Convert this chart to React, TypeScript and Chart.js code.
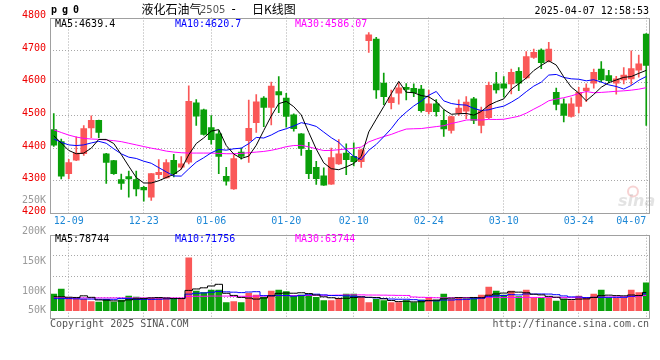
import React, { useEffect, useRef } from 'react';
import { Chart, registerables } from 'chart.js';

Chart.register(...registerables);

// ---------- data ----------
const DATES = ['12-05','12-06','12-09','12-10','12-11','12-12','12-13','12-16','12-17','12-18','12-19','12-20','12-23','12-24','12-25','12-26','12-27','12-30','12-31','01-02','01-03','01-06','01-07','01-08','01-09','01-10','01-13','01-14','01-15','01-16','01-17','01-20','01-21','01-22','01-23','01-24','01-27','02-05','02-06','02-07','02-10','02-11','02-12','02-13','02-14','02-17','02-18','02-19','02-20','02-21','02-24','02-25','02-26','02-27','02-28','03-03','03-04','03-05','03-06','03-07','03-10','03-11','03-12','03-13','03-14','03-17','03-18','03-19','03-20','03-21','03-24','03-25','03-26','03-27','03-28','03-31','04-01','04-02','04-03','04-07'];
const TICK_DATES = ['12-09','12-23','01-06','01-20','02-10','02-24','03-10','03-24','04-07'];

const OPEN = [4457,4420,4322,4363,4383,4462,4485,4383,4362,4304, 4313,4304,4280,4250,4319,4309,4363,4342,4357,4539, 4517,4463,4444,4314,4275,4388,4423,4478,4553,4525, 4573,4553,4502,4444,4393,4341,4315,4290,4352,4385, 4375,4359,4729,4734,4599,4539,4568,4586,4583,4581, 4512,4536,4485,4454,4507,4513,4551,4470,4493,4597, 4597,4597,4635,4615,4678,4700,4666,4571,4536,4497, 4528,4576,4599,4642,4622,4599,4609,4612,4639,4749];
const HIGH = [4506,4428,4366,4435,4469,4499,4486,4384,4363,4321, 4330,4330,4283,4322,4365,4365,4381,4374,4591,4549, 4520,4500,4454,4341,4380,4400,4547,4564,4558,4602, 4619,4568,4505,4445,4418,4360,4340,4400,4426,4413, 4416,4397,4754,4739,4630,4578,4600,4598,4597,4592, 4578,4549,4517,4498,4548,4558,4556,4526,4602,4632, 4619,4642,4647,4696,4703,4704,4724,4584,4551,4554, 4586,4597,4642,4665,4638,4620,4647,4698,4685,4751];
const LOW = [4405,4306,4307,4362,4378,4432,4432,4292,4320,4274, 4250,4254,4238,4240,4307,4308,4312,4336,4352,4470, 4440,4412,4322,4287,4274,4366,4356,4448,4466,4471, 4509,4464,4452,4378,4307,4289,4286,4289,4350,4319, 4346,4341,4693,4552,4533,4520,4535,4548,4558,4510, 4505,4498,4436,4446,4500,4490,4475,4447,4490,4568, 4556,4566,4576,4612,4675,4643,4664,4517,4480,4495, 4508,4542,4584,4602,4600,4565,4597,4595,4617,4470];
const CLOSE = [4409,4314,4356,4385,4460,4485,4448,4356,4322,4292, 4306,4275,4272,4322,4326,4356,4322,4352,4543,4498, 4442,4426,4375,4299,4368,4375,4461,4542,4525,4590, 4563,4497,4460,4399,4322,4307,4287,4371,4383,4365, 4359,4395,4747,4578,4558,4555,4585,4580,4570,4515, 4536,4512,4459,4497,4523,4541,4485,4515,4592,4578, 4584,4632,4599,4680,4693,4662,4703,4534,4500,4536, 4571,4584,4632,4609,4607,4612,4624,4644,4658,4653];

const MA5 = [4438,4416,4393,4383,4384.8,4400,4426.8,4426.8,4414.2,4380.6, 4344.8,4310.2,4293.4,4293.4,4300.2,4310.2,4319.6,4335.6,4379.8,4414.2, 4431.4,4452.2,4456.8,4408,4382,4368.6,4375.6,4409,4454.2,4498.6, 4536.2,4543.4,4527,4501.8,4448.2,4397,4355,4337.2,4334,4342.6, 4353,4374.6,4449.8,4488.8,4527.4,4566.6,4604.6,4571.2,4569.6,4561, 4557.2,4542.6,4518.4,4503.8,4505.4,4506.4,4501,4512.2,4531.2,4542.2, 4550.8,4580.2,4597,4614.6,4637.6,4653.2,4667.4,4654.4,4618.4,4587, 4568.8,4545,4564.6,4586.4,4600.6,4608.8,4616.8,4619.2,4629,4638.2];
const MA10 = [4428,4418,4410,4408,4410,4416,4421,4415,4398,4382.7, 4372.4,4368.5,4360.1,4353.8,4340.4,4327.5,4314.9,4314.5,4336.6,4357.2, 4370.8,4385.9,4396.2,4393.9,4398.1,4400,4413.9,4432.9,4431.1,4440.3, 4452.4,4459.5,4468,4478,4473.4,4466.6,4449.2,4432.1,4417.9,4395.4, 4375,4364.8,4393.5,4411.4,4435,4459.8,4489.6,4510.5,4529.2,4544.2, 4561.9,4573.6,4544.8,4536.7,4533.2,4531.8,4521.8,4515.3,4517.5,4523.8, 4528.6,4540.6,4554.6,4572.9,4589.9,4602,4623.8,4625.7,4616.5,4612.3, 4611,4606.2,4609.5,4602.4,4593.8,4588.8,4580.9,4591.9,4607.7,4619.4];
const MA30 = [4456,4448,4440,4434,4430,4428,4427,4425,4423,4420, 4415,4410,4405,4400,4396,4391,4388,4386,4385,4385, 4385,4385,4384,4383,4383,4384,4386,4388,4390,4393.4, 4398.5,4404.6,4408.1,4408.6,4404,4398,4392.7,4393.2,4395.2,4397.6, 4399.4,4403.4,4419.2,4427.8,4435.5,4442.1,4450.9,4458.5,4459.4,4460, 4463.1,4466,4468.8,4475.4,4480.5,4486.1,4486.9,4486,4488.2,4487.8, 4488.5,4493,4497.6,4507,4519.4,4531.2,4545.1,4550.5,4554.4,4560.1, 4567.2,4573.5,4569.6,4570.7,4572.3,4574.2,4575.5,4577.6,4580.6,4585.2];

// volumes in thousands of lots
const VOLUME_K = [71.8,93.4,53.2,53.2,48.9,38.8,37.4,48.9,37.4,46.0, 63.2,58.9,54.6,53.2,53.2,53.2,48.9,53.2,228.5,84.8, 77.6,89.1,89.1,34.5,38.8,34.5,74.7,67.5,57.5,84.8, 89.1,81.9,63.2,67.5,67.5,57.5,43.1,43.1,53.2,71.8, 71.8,57.5,34.5,48.9,43.1,34.5,34.5,43.1,34.5,46.0, 57.5,46.0,71.8,48.9,57.5,48.9,57.5,67.5,102.0,84.8, 67.5,84.8,60.4,89.1,53.2,53.2,53.2,41.7,48.9,43.1, 63.2,57.5,71.8,89.1,53.2,53.2,53.2,89.1,77.6,120.7];
const VMA5_K = [60,60,58,57,64.1,57.5,46.3,45.4,42.3,41.7, 46.6,50.9,52.0,55.2,56.6,54.6,52.6,52.3,87.4,93.7, 98.6,106.6,113.8,75.0,65.8,57.2,54.3,50.0,54.6,63.8, 74.7,76.2,75.3,77.3,73.8,67.5,59.8,55.7,52.9,53.7, 56.6,59.5,57.8,56.9,51.2,43.7,39.1,40.8,37.9,38.5, 43.1,45.4,51.2,54.0,56.3,54.6,56.9,56.1,66.7,72.1, 75.9,81.3,79.9,77.3,71.0,68.1,61.8,58.1,50.0,48.0, 50.0,50.9,56.9,64.9,67.0,65.0,64.1,67.6,65.3,78.8];
const VMA10_K = [52,52,52,51,50,50,49,49,49,52.9, 52.0,48.6,48.7,48.7,49.2,50.6,51.8,52.2,71.3,75.2, 76.6,79.6,83.1,81.2,79.8,77.9,80.5,81.9,64.8,64.8, 66.0,65.2,62.7,66.0,68.8,71.1,68.0,65.5,65.1,63.8, 62.1,59.6,56.8,54.9,52.5,50.2,49.3,49.3,47.4,44.8, 43.4,42.3,46.0,46.0,47.4,48.9,51.2,53.6,60.4,64.2, 65.2,69.1,68.0,72.0,71.6,72.0,71.6,69.0,63.7,59.5, 59.1,56.4,57.5,57.5,57.5,57.5,57.5,62.2,65.1,72.9];
const VMA30_K = [56,56,55,55,55,55,55,55,55,55, 55,55,55,55,55,55,55,55,61,62, 62,63,63,63,62,62,62,63,63,64.3, 64.9,64.5,64.8,65.3,65.9,66.5,66.7,66.5,67.1,67.9, 68.2,68.2,67.5,67.4,67.0,66.4,65.9,65.6,59.1,57.8, 57.1,55.7,55.1,55.6,56.2,56.7,56.1,56.1,57.6,57.6, 56.9,57.0,56.9,57.6,57.2,57.0,57.3,57.3,57.2,56.2, 55.9,55.9,57.2,58.5,58.8,59.5,60.1,61.6,63.0,65.5];

const PRICE_LEGEND = ['MA5:4639.4', 'MA10:4620.7', 'MA30:4586.07'];
const VOLUME_LEGEND = ['MA5:78744', 'MA10:71756', 'MA30:63744'];
const VOLUME_AXIS_LABELS = ['250K', '200K', '150K', '100K', '50K'];

// ---------- style ----------
const RED = '#fa5858';
const GREEN = '#0a9f0a';
const GRID = '#a8a8a8';
const BOX = '#a0a0a0';
const MONO = '"DejaVu Sans Mono", monospace';
const LINE_COLORS = ['#000000', '#0000ff', '#ff00ff'];
const PRICE_MIN = 4200, PRICE_MAX = 4800;
const VOL_MIN = -33, VOL_MAX = 328;

Chart.defaults.font.family = MONO;

const boxPlugin = {
  id: 'box',
  afterDraw(chart: any) {
    const { ctx, chartArea: a } = chart;
    ctx.save();
    ctx.strokeStyle = BOX;
    ctx.lineWidth = 1;
    const l = Math.floor(a.left) + 0.5;
    const t = Math.round(a.top) + 0.5;
    const r = Math.floor(a.right) - 0.5;
    const b = Math.floor(a.bottom) + 0.5;
    ctx.strokeRect(l, t, r - l, b - t);
    ctx.restore();
  },
};

const watermarkPlugin = {
  id: 'wm',
  beforeDatasetsDraw(chart: any) {
    const { ctx, chartArea: a } = chart;
    ctx.save();
    ctx.globalAlpha = 0.25;
    ctx.strokeStyle = '#e05050';
    ctx.lineWidth = 2;
    ctx.beginPath();
    ctx.arc(a.right - 17, a.bottom - 22, 5, 0, Math.PI * 2);
    ctx.stroke();
    ctx.fillStyle = '#909090';
    ctx.font = 'italic bold 16px "DejaVu Sans"';
    ctx.fillText('sina', a.right - 32, a.bottom - 8);
    ctx.restore();
  },
};

const T = ({ children, style }: any) => (
  <div style={{ position: 'absolute', whiteSpace: 'pre', font: `10px ${MONO}`, lineHeight: '12px', ...style }}>{children}</div>
);

export default function App() {
  const priceRef = useRef<HTMLCanvasElement>(null);
  const volRef = useRef<HTMLCanvasElement>(null);

  useEffect(() => {
    const colors = CLOSE.map((c, i) => (c >= OPEN[i] ? RED : GREEN));
    const tickSet = new Set(TICK_DATES);
    const xGridColor = (ctx: any) => (tickSet.has(DATES[ctx.index]) ? GRID : 'rgba(0,0,0,0)');

    const lineDs = (data: number[], color: string, stepped: any = false) => ({
      type: 'line' as const,
      data,
      borderColor: color,
      backgroundColor: color,
      borderWidth: 1,
      pointRadius: 0,
      tension: 0,
      fill: false,
      stepped,
      order: 0,
    });

    const priceChart = new Chart(priceRef.current!, {
      type: 'bar',
      data: {
        labels: DATES,
        datasets: [
          lineDs(MA5, LINE_COLORS[0]),
          lineDs(MA10, LINE_COLORS[1]),
          lineDs(MA30, LINE_COLORS[2]),
          {
            type: 'bar',
            data: OPEN.map((o, i) => [o, CLOSE[i]]),
            backgroundColor: colors,
            barThickness: 6,
            minBarLength: 1,
            grouped: false,
            order: 2,
          } as any,
          {
            type: 'bar',
            data: LOW.map((l, i) => [l, HIGH[i]]),
            backgroundColor: colors,
            barThickness: 1,
            grouped: false,
            order: 3,
          } as any,
        ],
      },
      options: {
        animation: false,
        responsive: false,
        devicePixelRatio: 1,
        events: [],
        layout: { padding: { top: 17.5, right: 10, left: 0, bottom: 0 } },
        plugins: { legend: { display: false }, tooltip: { enabled: false } },
        scales: {
          x: {
            type: 'category',
            offset: true,
            grid: { offset: false, color: xGridColor, drawTicks: false, lineWidth: 1 },
            border: { display: false, dash: [1, 2] },
            ticks: {
              autoSkip: false,
              maxRotation: 0,
              minRotation: 0,
              align: 'inner',
              padding: 2,
              color: '#1e88d6',
              font: { size: 10, family: MONO },
              callback: (_v: any, i: number) => (tickSet.has(DATES[i]) ? DATES[i] : ''),
            },
            afterFit: (s: any) => { s.height = 16.5; },
          },
          y: {
            type: 'linear',
            position: 'left',
            min: PRICE_MIN,
            max: PRICE_MAX,
            grid: {
              drawTicks: false,
              color: (ctx: any) => (ctx.tick.value === PRICE_MIN || ctx.tick.value === PRICE_MAX ? 'rgba(0,0,0,0)' : GRID),
            },
            border: { display: false, dash: [1, 2] },
            ticks: {
              stepSize: 100,
              color: '#ee0000',
              padding: 4,
              labelOffset: -2,
              font: { size: 10, family: MONO },
              callback: (v: any) => String(v),
            },
            afterFit: (s: any) => { s.width = 50; },
          },
        },
      } as any,
      plugins: [watermarkPlugin, boxPlugin],
    });

    const volChart = new Chart(volRef.current!, {
      type: 'bar',
      data: {
        labels: DATES,
        datasets: [
          lineDs(VMA5_K, LINE_COLORS[0], 'middle'),
          lineDs(VMA10_K, LINE_COLORS[1], 'middle'),
          lineDs(VMA30_K, LINE_COLORS[2], 'middle'),
          {
            type: 'bar',
            data: VOLUME_K,
            backgroundColor: colors,
            barThickness: 6,
            grouped: false,
            order: 2,
          } as any,
        ],
      },
      options: {
        animation: false,
        responsive: false,
        devicePixelRatio: 1,
        events: [],
        layout: { padding: { top: 8.7, right: 10, left: 0, bottom: 41.7 } },
        plugins: { legend: { display: false }, tooltip: { enabled: false } },
        scales: {
          x: {
            type: 'category',
            offset: true,
            grid: { offset: false, color: xGridColor, drawTicks: false },
            border: { display: false, dash: [1, 2] },
            ticks: { display: false, autoSkip: false, maxRotation: 0 },
            afterFit: (s: any) => { s.height = 0; },
          },
          y: {
            type: 'linear',
            position: 'left',
            min: VOL_MIN,
            max: VOL_MAX,
            grid: {
              drawTicks: false,
              color: (ctx: any) => (ctx.index === 0 || ctx.index === 4 ? 'rgba(0,0,0,0)' : GRID),
            },
            border: { display: false, dash: [1, 2] },
            ticks: { display: false },
            afterBuildTicks: (s: any) => {
              const q = (VOL_MAX - VOL_MIN) / 4;
              s.ticks = [0, 1, 2, 3, 4].map((k) => ({ value: VOL_MIN + k * q }));
            },
            afterFit: (s: any) => { s.width = 50; },
          },
        },
      } as any,
      plugins: [boxPlugin],
    });

    return () => {
      priceChart.destroy();
      volChart.destroy();
    };
  }, []);

  const volLabelTops = [194, 225, 255, 284.5, 304];

  return (
    <div style={{ position: 'fixed', left: 0, top: 0, width: 660, height: 360, background: '#fff', overflow: 'hidden' }}>
      <canvas ref={priceRef} width={660} height={230} style={{ position: 'absolute', left: 0, top: 0 }} />
      <canvas ref={volRef} width={660} height={134} style={{ position: 'absolute', left: 0, top: 226 }} />

      <T style={{ left: 51, top: 4, fontWeight: 'bold', letterSpacing: '5px' }}>pg0</T>
      <div style={{ position: 'absolute', left: 141.5, top: 2, font: '12px "Noto Sans CJK SC"', lineHeight: '14px', color: '#000' }}>液化石油气</div>
      <div style={{ position: 'absolute', left: 200, top: 3, font: '10px "DejaVu Sans"', lineHeight: '14px', color: '#555' }}>2505</div>
      <div style={{ position: 'absolute', left: 230, top: 2, font: '12px "DejaVu Sans Mono"', lineHeight: '14px', color: '#000' }}>-</div>
      <div style={{ position: 'absolute', left: 252, top: 2, font: '12px "Noto Sans CJK SC"', lineHeight: '14px', color: '#000' }}>日K线图</div>
      <T style={{ right: 11, top: 5, color: '#000' }}>2025-04-07 12:58:53</T>

      <T style={{ left: 55, top: 18, color: LINE_COLORS[0] }}>{PRICE_LEGEND[0]}</T>
      <T style={{ left: 175, top: 18, color: LINE_COLORS[1] }}>{PRICE_LEGEND[1]}</T>
      <T style={{ left: 295, top: 18, color: LINE_COLORS[2] }}>{PRICE_LEGEND[2]}</T>

      <T style={{ left: 55, top: 232.5, color: LINE_COLORS[0] }}>{VOLUME_LEGEND[0]}</T>
      <T style={{ left: 175, top: 232.5, color: LINE_COLORS[1] }}>{VOLUME_LEGEND[1]}</T>
      <T style={{ left: 295, top: 232.5, color: LINE_COLORS[2] }}>{VOLUME_LEGEND[2]}</T>

      {VOLUME_AXIS_LABELS.map((s, i) => (
        <T key={s} style={{ left: 0, width: 46, textAlign: 'right', top: volLabelTops[i], color: '#9a9a9a' }}>{s}</T>
      ))}

      <T style={{ left: 50, top: 318, color: '#555' }}>Copyright 2025 SINA.COM</T>
      <T style={{ right: 11, top: 318, color: '#555' }}>http://finance.sina.com.cn</T>
    </div>
  );
}
